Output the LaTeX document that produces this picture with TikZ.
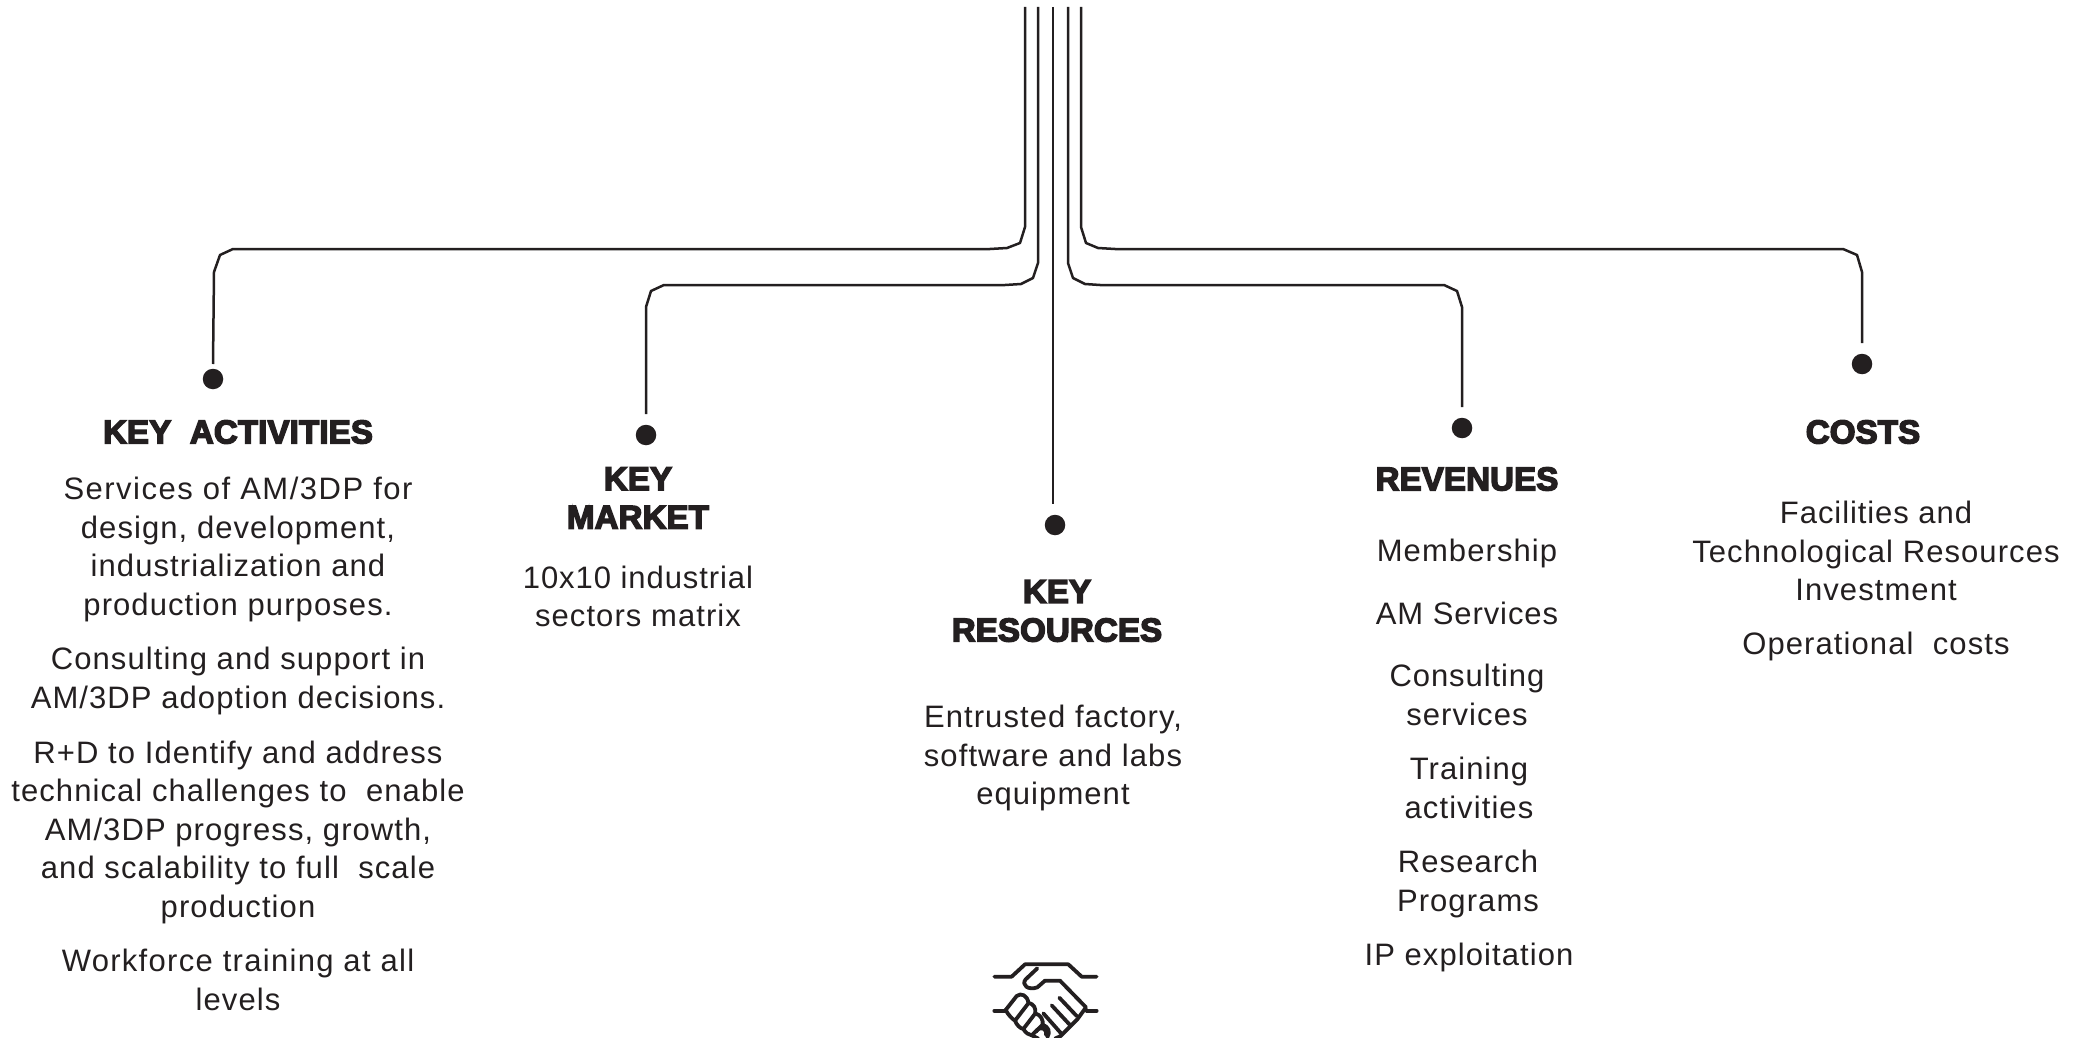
\documentclass[tikz,border=0pt]{standalone}
\usepackage{fontspec}
\setmainfont[LetterSpace=3.5]{Liberation Sans}
\newfontfamily\headfont[FakeBold=4.5,LetterSpace=0.5]{Liberation Sans Bold}
\definecolor{ink}{HTML}{231F20}
\tikzset{
  body/.style={font=\fontsize{31}{38.5}\selectfont, text=ink, align=center, inner sep=0pt},
  head/.style={font=\fontsize{33}{38.5}\selectfont\headfont, text=ink, align=center, inner sep=0pt},
  wire/.style={draw=ink, line width=2.5pt, line join=round},
  dot/.style={circle, fill=ink, minimum size=20.5pt, inner sep=0pt},
  hand/.style={draw=ink, line width=3.8pt, line cap=round, line join=round}
}
\begin{document}
\begin{tikzpicture}[x=1pt,y=-1pt]
\useasboundingbox (0,0) rectangle (2085,1038);
% dots
\node[dot] (d1) at (213,379) {};
\node[dot] (d2) at (646,435) {};
\node[dot] (d3) at (1055,525) {};
\node[dot] (d4) at (1462,428) {};
\node[dot] (d5) at (1862,364) {};
\coordinate (t1) at (1025,7);
\coordinate (t2) at (1038,7);
\coordinate (t3) at (1053,7);
\coordinate (t4) at (1068,7);
\coordinate (t5) at (1081,7);
\coordinate (e1) at (213,364);
\coordinate (e2) at (646,414);
\coordinate (e3) at (1053,504);
\coordinate (e4) at (1462,407);
\coordinate (e5) at (1862,343);
\draw[wire] (t1) -- (1025,227) -- (1020,243) -- (1007,248) -- (990,249) -- (233,249) -- (220,255) -- (214,272) -- (e1);
\draw[wire] (t2) -- (1038,263) -- (1033,278) -- (1021,284) -- (1005,285) -- (664,285) -- (651,291) -- (646,307) -- (e2);
\draw[wire] (t3) -- (e3);
\draw[wire] (t4) -- (1068,263) -- (1073,278) -- (1085,284) -- (1100,285) -- (1444,285) -- (1457,291) -- (1462,307) -- (e4);
\draw[wire] (t5) -- (1081,227) -- (1086,243) -- (1098,248) -- (1115,249) -- (1843,249) -- (1857,255) -- (1862,272) -- (e5);
% headings
\node[head] (h1) at (238,432) {KEY\ \ ACTIVITIES};
\node[head] (h2) at (638,498) {KEY\\MARKET};
\node[head] (h3) at (1057,611) {KEY\\RESOURCES};
\node[head] (h4) at (1467,479) {REVENUES};
\node[head] (h5) at (1863,432) {COSTS};
% texts
\node[body] (a1) at (238,549.5) {\addfontfeature{LetterSpace=4.8}Services of AM/3DP for\\design, development,\\industrialization and\\production purposes.};
\node[body] (a2) at (238,681) {Consulting and support in\\AM/3DP adoption decisions.};
\node[body] (a3) at (238,832) {R+D to Identify and address\\technical challenges to\ \ enable\\AM/3DP progress,\ growth,\\and scalability to full\ \ scale\\production};
\node[body] (a4) at (238,980) {\addfontfeature{LetterSpace=4.2}Workforce training at all\\levels};
\node[body] (m1) at (638,596.5) {\addfontfeature{LetterSpace=3}10x10 industrial\\sectors matrix};
\node[body] (k1) at (1053,758) {Entrusted factory,\\software and labs\\equipment};
\node[body] (r1) at (1467,553.5) {Membership};
\node[body] (r2) at (1467,613) {\addfontfeature{LetterSpace=3}AM Services};
\node[body] (r3) at (1467,695) {\addfontfeature{LetterSpace=3}Consulting\\services};
\node[body] (r4) at (1469,788) {Training\\activities};
\node[body] (r5) at (1468,884) {Research\\Programs};
\node[body] (r6) at (1469,957) {IP exploitation};
\node[body] (c1) at (1876,551) {\addfontfeature{LetterSpace=3}Facilities and\\Technological Resources\\Investment};
\node[body] (c2) at (1876,646) {Operational\ \ costs};
% handshake
\begin{scope}[shift={(960,930)},x=0.3333pt,y=-0.3333pt]
\clip (0,0) rectangle (540,324);
\draw[hand] (103,140) -- (155,140) -- (195,103) -- (325,103) -- (365,140) -- (410,140);
\draw[hand] (232,115) -- (197,148) .. controls (183,165) and (205,182) .. (232,172) -- (255,152) -- (300,152) -- (378,232) -- (352,268) -- (330,290) -- (302,318) -- (285,326);
\draw[hand] (103,242) -- (135,242);
\draw[hand] (380,242) -- (410,242);
\draw[hand] (298,203) -- (350,258);
\draw[hand] (275,226) -- (330,285);
\draw[hand] (250,250) -- (305,312);
\draw[hand] (137,240) -- (170,198) .. controls (183,187) and (203,197) .. (205,218) .. controls (222,222) and (228,235) .. (226,250) .. controls (243,255) and (250,270) .. (248,284) .. controls (265,290) and (272,305) .. (262,322);
\draw[hand] (137,240) .. controls (145,255) and (155,265) .. (165,272) .. controls (170,285) and (180,295) .. (190,297) .. controls (197,308) and (205,315) .. (215,316) -- (235,326);
\draw[hand] (165,272) -- (205,220);
\draw[hand] (190,297) -- (226,250);
\draw[hand] (215,316) -- (248,284);
\draw[hand] (228,305) .. controls (240,285) and (262,295) .. (258,315);
\end{scope}
\end{tikzpicture}
\end{document}
